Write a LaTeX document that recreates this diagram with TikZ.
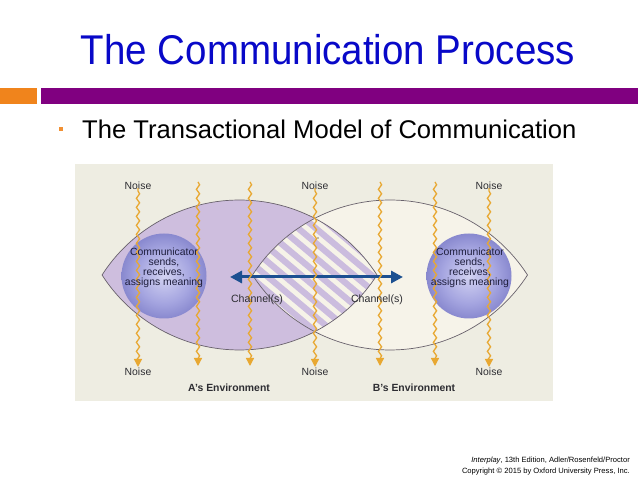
\documentclass[tikz,border=0pt]{standalone}
\usepackage{fontspec}
\setmainfont{Liberation Sans}
\usetikzlibrary{arrows.meta,decorations.pathmorphing}
\definecolor{ttlblue}{RGB}{8,8,200}
\definecolor{barorange}{RGB}{240,132,28}
\definecolor{barpurple}{RGB}{128,0,128}
\definecolor{figbg}{RGB}{238,237,226}
\definecolor{lavA}{RGB}{206,190,222}
\definecolor{creamB}{RGB}{246,243,233}
\definecolor{stripelav}{RGB}{203,188,222}
\definecolor{stripecream}{RGB}{246,243,232}
\definecolor{lensline}{RGB}{105,98,108}
\definecolor{noisecol}{RGB}{232,168,50}
\definecolor{arrowblue}{RGB}{28,80,145}
\definecolor{sphA}{RGB}{210,210,242}
\definecolor{sphB}{RGB}{165,165,224}
\definecolor{sphC}{RGB}{96,96,182}
\definecolor{sphD}{RGB}{84,84,170}
\definecolor{sphE}{RGB}{125,125,198}
\definecolor{labelcol}{RGB}{45,45,50}
\definecolor{sphtext}{RGB}{30,30,60}
\pgfdeclareradialshading{sphshade}{\pgfpoint{0bp}{0bp}}{color(0bp)=(sphA); color(16bp)=(sphB); color(38bp)=(sphC); color(46bp)=(sphD); color(50bp)=(sphE)}
\def\lensat#1{(#1+137.5,204) arc[start angle=32.78, end angle=147.22, radius=163.54] arc[start angle=212.78, end angle=327.22, radius=163.54] -- cycle}
\tikzset{
  noisearrow/.style={draw=noisecol, line width=1.3pt,
    decoration={snake, amplitude=1.6pt, segment length=9pt, post length=3pt},
    decorate, -{Triangle[width=8pt,length=8pt,fill=noisecol]}},
  noiselabel/.style={font=\fontsize{10.4}{12}\selectfont, text=labelcol, inner sep=1pt},
  envlabel/.style={font=\fontsize{10.4}{12}\selectfont\bfseries, text=labelcol, inner sep=1pt},
  chanlabel/.style={font=\fontsize{10.6}{12}\selectfont, text=labelcol, inner sep=1pt},
  sphtextstyle/.style={font=\fontsize{10.4}{9.8}\selectfont, text=sphtext, align=center, inner sep=0pt},
  sphere/.style={circle, minimum size=85pt, inner sep=0pt, shading=sphshade},
  lensborder/.style={draw=lensline, line width=0.7pt},
  twoway/.style={draw=arrowblue, line width=3pt,
    {Triangle[width=12pt,length=12pt]}-{Triangle[width=12pt,length=12pt]}},
  footer/.style={anchor=base east, font=\fontsize{7.6}{9}\selectfont, inner sep=0pt}
}
\begin{document}
\begin{tikzpicture}[x=1pt,y=1pt]
\useasboundingbox (0,0) rectangle (638,479);
\fill[white] (0,0) rectangle (638,479);
% title and bars
\node[anchor=base, font=\fontsize{38.5}{42}\selectfont, text=ttlblue, inner sep=0pt] (title) at (328,414) {\scalebox{1}[1.08]{The Communication Process}};
\fill[barorange] (0,375) rectangle (37,391);
\fill[barpurple] (41,375) rectangle (638,391);
\fill[barorange!90!white] (59,348) rectangle (63,352);
\node[anchor=base west, font=\fontsize{25.6}{28}\selectfont, inner sep=0pt] (subtitle) at (82,340) {The Transactional Model of Communication};
% figure background
\fill[figbg] (75,78) rectangle (553,315);
% lenses
\fill[creamB] \lensat{390};
\fill[lavA] \lensat{239.5};
\begin{scope}
  \clip \lensat{239.5};
  \clip \lensat{390};
  \fill[stripecream] (230,120) rectangle (400,290);
  \foreach \k in {-11,...,11}
    \draw[stripelav, line width=6.2pt] (223.1,{284.2+\k*14.8}) -- (406.9,{129.8+\k*14.8});
\end{scope}
\draw[lensborder] \lensat{239.5};
\draw[lensborder] \lensat{390};
\fill[black] (318,241) circle (0.7);
% spheres
\node[sphere] (sphereA) at (164,203) {};
\node[sphere] (sphereB) at (469,203) {};
% two-way channel arrow
\coordinate (chL) at (230,202);
\coordinate (chR) at (403,202);
\draw[twoway] (chL) -- (chR);
% noise labels
\node[noiselabel] (n1t) at (138,293) {Noise};
\node[noiselabel] (n4t) at (315,293) {Noise};
\node[noiselabel] (n7t) at (489,293) {Noise};
\node[noiselabel] (n1b) at (138,107) {Noise};
\node[noiselabel] (n4b) at (315,107) {Noise};
\node[noiselabel] (n7b) at (489,107) {Noise};
\coordinate (n2t) at (198,297); \coordinate (n2b) at (198,113);
\coordinate (n3t) at (250,297); \coordinate (n3b) at (250,113);
\coordinate (n5t) at (380,297); \coordinate (n5b) at (380,113);
\coordinate (n6t) at (435,297); \coordinate (n6b) at (435,113);
% noise arrows
\draw[noisearrow, shorten <=3pt] (n1t.south) -- (n1b.north);
\draw[noisearrow, shorten <=3pt] (n4t.south) -- (n4b.north);
\draw[noisearrow, shorten <=3pt] (n7t.south) -- (n7b.north);
\draw[noisearrow] (n2t) -- (n2b);
\draw[noisearrow] (n3t) -- (n3b);
\draw[noisearrow] (n5t) -- (n5b);
\draw[noisearrow] (n6t) -- (n6b);
% sphere texts
\node[sphtextstyle] (txtA) at (164,211) {Communicator\\sends,\\receives,\\assigns meaning};
\node[sphtextstyle] (txtB) at (470,211) {Communicator\\sends,\\receives,\\assigns meaning};
% channel labels
\node[chanlabel] (chanA) at (257,179) {Channel(s)};
\node[chanlabel] (chanB) at (377,179) {Channel(s)};
% environment labels
\node[envlabel] (envA) at (229,91) {A's Environment};
\node[envlabel] (envB) at (414,91) {B's Environment};
% footer
\node[footer] (cite1) at (630,16) {\textit{Interplay}, 13th Edition, Adler/Rosenfeld/Proctor};
\node[footer] (cite2) at (630,5) {Copyright © 2015 by Oxford University Press, Inc.};
\end{tikzpicture}
\end{document}
